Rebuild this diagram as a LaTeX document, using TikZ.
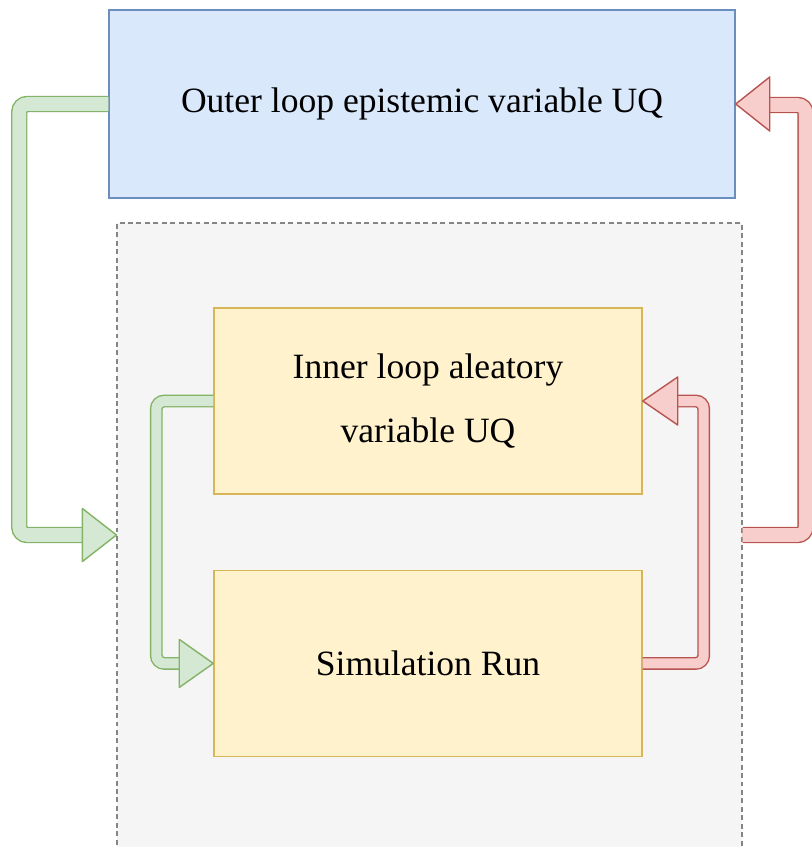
\documentclass[tikz,border=0pt]{standalone}
\usepackage{fontspec}
\setmainfont{Liberation Serif}
\usetikzlibrary{positioning,calc}
\definecolor{bluefill}{HTML}{DAE8FC}
\definecolor{blueline}{HTML}{6C8EBF}
\definecolor{yellowfill}{HTML}{FFF2CC}
\definecolor{yellowline}{HTML}{D6B656}
\definecolor{grayfill}{HTML}{F5F5F5}
\definecolor{grayline}{HTML}{666666}
\definecolor{greenfill}{HTML}{D5E8D4}
\definecolor{greenline}{HTML}{82B366}
\definecolor{redfill}{HTML}{F8CECC}
\definecolor{redline}{HTML}{B85450}
\tikzset{
  outerbox/.style={rectangle, draw=blueline, fill=bluefill, line width=1pt, minimum width=156.5mm, minimum height=47mm},
  innerbox/.style={rectangle, draw=yellowline, fill=yellowfill, line width=1pt, minimum width=107mm, minimum height=46.5mm, align=center},
  loopbox/.style={rectangle, draw=grayline!80, fill=grayfill, line width=0.8pt, dash pattern=on 3.5pt off 2.5pt, minimum width=156.25mm, minimum height=161.75mm},
  gshaft/.style={draw=greenline, double=greenfill, line width=1pt, rounded corners=2mm},
  rshaft/.style={draw=redline, double=redfill, line width=1pt, rounded corners=2mm},
  ghead/.style={draw=greenline, fill=greenfill, line width=1pt, line join=round},
  rhead/.style={draw=redline, fill=redfill, line width=1pt, line join=round}
}
% head of a flex arrow: style, tip, half width, length
\newcommand{\headright}[4]{\filldraw[#1] (#2) -- ++(-#4,#3) -- ++(0,{-2*#3}) -- cycle;}
\newcommand{\headleft}[4]{\filldraw[#1] (#2) -- ++(#4,#3) -- ++(0,{-2*#3}) -- cycle;}
\begin{document}
\begin{tikzpicture}[x=0.25mm, y=-0.25mm, font=\fontsize{25.3}{46}\selectfont]
\useasboundingbox (0,0) rectangle (811,847);

\node[loopbox](loop) at (429.5,546.5){};
\node[outerbox](outer) at (422,104){Outer loop epistemic variable UQ};
\node[innerbox](inner) at (428,401){Inner loop aleatory\\variable UQ};
\node[innerbox](sim)[below=18.75mm of inner]{Simulation Run};

\path (loop.west) ++(0,-11.5) coordinate (gtip);
\path (loop.east) ++(0,-11.5) coordinate (rstart);

% outer loop
\path[gshaft, double distance=3.4mm] (outer.west) -- ++(-89,0) |- ($(gtip)+(-33,0)$);
\headright{ghead}{gtip}{26.5}{34}
\path[rshaft, double distance=3.4mm] (rstart) -- ++(63,0) |- ($(outer.east)+(33,1)$);
\headleft{rhead}{outer.east}{27}{34}

% inner loop
\path[gshaft, double distance=2.5mm] (inner.west) -- ++(-57,0) |- ($(sim.west)+(-33,0)$);
\headright{ghead}{sim.west}{24}{34}
\path[rshaft, double distance=2.5mm] (sim.east) -- ++(61,0) |- ($(inner.east)+(33,0)$);
\headleft{rhead}{inner.east}{24}{35}

\end{tikzpicture}
\end{document}
